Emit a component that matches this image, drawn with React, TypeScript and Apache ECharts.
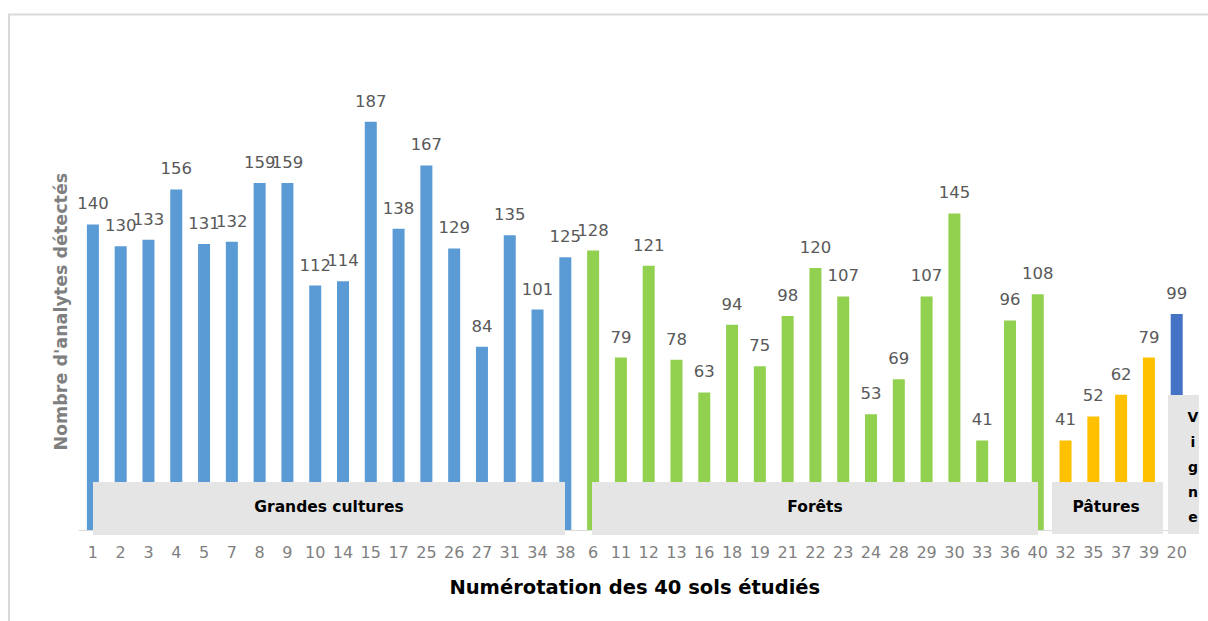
import React, { useEffect, useRef } from "react";
import * as echarts from "echarts";

const categories = [
  "1", "2", "3", "4", "5", "7", "8", "9", "10", "14", "15", "17", "25", "26", "27", "31", "34", "38",
  "6", "11", "12", "13", "16", "18", "19", "21", "22", "23", "24", "28", "29", "30", "33", "36", "40",
  "32", "35", "37", "39",
  "20",
];
const grandesCultures = [140, 130, 133, 156, 131, 132, 159, 159, 112, 114, 187, 138, 167, 129, 84, 135, 101, 125];
const forets = [128, 79, 121, 78, 63, 94, 75, 98, 120, 107, 53, 69, 107, 145, 41, 96, 108];
const patures = [41, 52, 62, 79];
const vigne = [99];

const groupNames = ["Grandes cultures", "Forêts", "Pâtures", "Vigne"];
const groupColors = ["#5b9bd5", "#92d050", "#ffc000", "#4472c4"];

function pad(values: number[], offset: number): (number | string)[] {
  const out: (number | string)[] = categories.map(() => "-");
  values.forEach((v, i) => (out[offset + i] = v));
  return out;
}

export default function App() {
  const ref = useRef<HTMLDivElement>(null);
  useEffect(() => {
    if (!ref.current) return;
    const chart = echarts.init(ref.current, undefined, { renderer: "svg" });
    const groups = [grandesCultures, forets, patures, vigne];
    let offset = 0;
    const series = groups.map((g, gi) => {
      const s = {
        type: "bar",
        name: groupNames[gi],
        data: pad(g, offset),
        barWidth: 12,
        barGap: "-100%",
        itemStyle: { color: groupColors[gi] },
        label: {
          show: true,
          position: "top",
          distance: 12,
          color: "#595959",
          fontFamily: "DejaVu Sans",
          fontSize: 16.5,
        },
      };
      offset += g.length;
      return s;
    });
    const boxStyle = { fill: "#e5e5e5" };
    const textStyle = (t: string, x: number, y: number) => ({
      type: "text",
      z: 101,
      x,
      y,
      style: {
        text: t,
        fill: "#000",
        font: "bold 15.5px 'DejaVu Sans'",
        textAlign: "center",
        textVerticalAlign: "middle",
      },
    });
    chart.setOption({
      animation: false,
      grid: { left: 79, right: 17.4, top: 93.4, bottom: 91 },
      xAxis: {
        type: "category",
        data: categories,
        axisLine: { lineStyle: { color: "#d9d9d9", width: 1 } },
        axisTick: { show: false },
        axisLabel: {
          interval: 0,
          margin: 14,
          color: "#7f7f7f",
          fontFamily: "DejaVu Sans",
          fontSize: 16,
        },
        name: "Numérotation des 40 sols étudiés",
        nameLocation: "middle",
        nameGap: 47,
        nameTextStyle: {
          color: "#000",
          fontWeight: "bold",
          fontFamily: "DejaVu Sans",
          fontSize: 19.5,
        },
      },
      yAxis: {
        type: "value",
        min: 0,
        max: 200,
        axisLine: { show: false },
        axisTick: { show: false },
        axisLabel: { show: false },
        splitLine: { show: false },
        name: "Nombre d'analytes détectés",
        nameLocation: "middle",
        nameRotate: 90,
        nameGap: 9,
        nameTextStyle: {
          color: "#7f7f7f",
          fontWeight: "bold",
          fontFamily: "DejaVu Sans",
          fontSize: 17.5,
        },
      },
      series,
      graphic: [
        {
          type: "rect",
          z: 1,
          shape: { x: 9, y: 14.5, width: 1400, height: 800 },
          style: { fill: "none", stroke: "#d9d9d9", lineWidth: 2 },
        },
        { type: "rect", z: 100, shape: { x: 93, y: 482, width: 472, height: 53 }, style: boxStyle },
        { type: "rect", z: 100, shape: { x: 592, y: 482, width: 446, height: 53 }, style: boxStyle },
        { type: "rect", z: 100, shape: { x: 1052, y: 482, width: 111, height: 52 }, style: boxStyle },
        { type: "rect", z: 100, shape: { x: 1168, y: 395, width: 31, height: 139 }, style: boxStyle },
        textStyle(groupNames[0], 329, 507),
        textStyle(groupNames[1], 815, 507),
        textStyle(groupNames[2], 1106, 507),
        {
          type: "text",
          z: 101,
          x: 1193,
          y: 467,
          style: {
            text: groupNames[3].split("").join("\n"),
            fill: "#000",
            font: "bold 14px 'DejaVu Sans'",
            lineHeight: 24.8,
            textAlign: "center",
            textVerticalAlign: "middle",
          },
        },
      ],
    });
    return () => chart.dispose();
  }, []);
  return (
    <div
      ref={ref}
      style={{ position: "fixed", left: 0, top: 0, width: 1208, height: 621, background: "#fff" }}
    />
  );
}
